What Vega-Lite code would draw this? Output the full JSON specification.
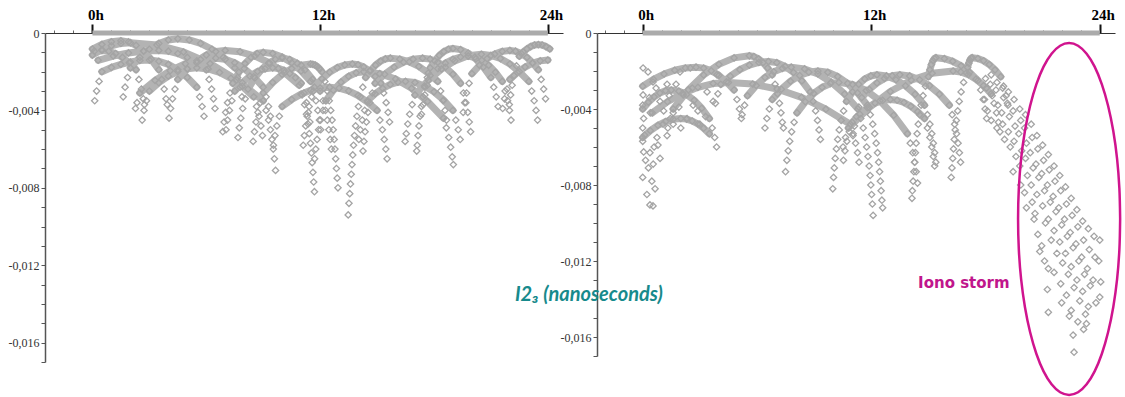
{
"$schema":"https://vega.github.io/schema/vega-lite/v6.json",
"background":"white",
"padding":{"left":8,"top":7,"right":0,"bottom":0},
"bounds":"flush",
"spacing":34,
"config":{"view":{"stroke":null}},
"datasets":{
"base":[{"h":0,"h2":24,"v":0}],
"T":[{"h":14.46,"v":-0.01316,"s":"Iono storm","k":"storm"},{"h":-6.71,"v":-0.01379,"s":"I2₃ (nanoseconds)","k":"unit"}],
"E":[{"o":0,"h":25.07,"v":-0.00979},{"o":1,"h":25.03,"v":-0.00818},{"o":2,"h":24.91,"v":-0.00662},{"o":3,"h":24.71,"v":-0.00516},{"o":4,"h":24.44,"v":-0.00384},{"o":5,"h":24.11,"v":-0.0027},{"o":6,"h":23.73,"v":-0.00177},{"o":7,"h":23.31,"v":-0.00109},{"o":8,"h":22.86,"v":-0.00067},{"o":9,"h":22.39,"v":-0.00053},{"o":10,"h":21.92,"v":-0.00067},{"o":11,"h":21.47,"v":-0.00109},{"o":12,"h":21.05,"v":-0.00177},{"o":13,"h":20.67,"v":-0.0027},{"o":14,"h":20.34,"v":-0.00384},{"o":15,"h":20.07,"v":-0.00516},{"o":16,"h":19.87,"v":-0.00662},{"o":17,"h":19.75,"v":-0.00818},{"o":18,"h":19.71,"v":-0.00979},{"o":19,"h":19.75,"v":-0.0114},{"o":20,"h":19.87,"v":-0.01296},{"o":21,"h":20.07,"v":-0.01442},{"o":22,"h":20.34,"v":-0.01574},{"o":23,"h":20.67,"v":-0.01688},{"o":24,"h":21.05,"v":-0.01781},{"o":25,"h":21.47,"v":-0.01849},{"o":26,"h":21.92,"v":-0.01891},{"o":27,"h":22.39,"v":-0.01905},{"o":28,"h":22.86,"v":-0.01891},{"o":29,"h":23.31,"v":-0.01849},{"o":30,"h":23.73,"v":-0.01781},{"o":31,"h":24.11,"v":-0.01688},{"o":32,"h":24.44,"v":-0.01574},{"o":33,"h":24.71,"v":-0.01442},{"o":34,"h":24.91,"v":-0.01296},{"o":35,"h":25.03,"v":-0.0114},{"o":36,"h":25.07,"v":-0.00979}],
"L":[
{"t":"a","h":0.1,"v":-0.00094},{"t":"a","h":0.5,"v":-0.0009},{"t":"a","h":0.86,"v":-0.00094},{"t":"a","h":1.22,"v":-0.00106},{"t":"a","h":1.58,"v":-0.00126},{"t":"a","h":1.94,"v":-0.00154},{"t":"a","h":2.3,"v":-0.0019},
{"h":2.45,"v":-0.0024},{"h":2.58,"v":-0.0029},{"h":2.68,"v":-0.0034},{"h":2.74,"v":-0.0037},
{"t":"b","h":0.0,"v":-0.00083},{"t":"b","h":0.5,"v":-0.00059},{"t":"b","h":1.0,"v":-0.00045},{"t":"b","h":1.5,"v":-0.0004},{"t":"b","h":1.9,"v":-0.00046},{"t":"b","h":2.3,"v":-0.00064},{"t":"b","h":2.7,"v":-0.00094},{"t":"b","h":3.1,"v":-0.00136},{"t":"b","h":3.5,"v":-0.0019},
{"h":3.65,"v":-0.0024},{"h":3.78,"v":-0.0029},{"h":3.88,"v":-0.0034},{"h":3.94,"v":-0.0037},
{"t":"c","h":0.0,"v":-0.00114},{"t":"c","h":0.5,"v":-0.00086},{"t":"c","h":1.0,"v":-0.00066},{"t":"c","h":1.5,"v":-0.00054},{"t":"c","h":2.0,"v":-0.0005},{"t":"c","h":3.4,"v":-0.00062},{"t":"c","h":4.8,"v":-0.00098},{"t":"c","h":6.2,"v":-0.00158},{"t":"c","h":7.6,"v":-0.00242},{"t":"c","h":9.0,"v":-0.0035},
{"h":9.15,"v":-0.004},{"h":9.28,"v":-0.0045},{"h":9.38,"v":-0.005},{"h":9.46,"v":-0.0055},{"h":9.53,"v":-0.006},{"h":9.59,"v":-0.0065},{"h":9.65,"v":-0.0071},
{"t":"d","h":0.3,"v":-0.00141},{"t":"d","h":1.1,"v":-0.00119},{"t":"d","h":1.9,"v":-0.00103},{"t":"d","h":2.7,"v":-0.00093},{"t":"d","h":3.5,"v":-0.0009},{"t":"d","h":4.0,"v":-0.00094},{"t":"d","h":4.5,"v":-0.00106},{"t":"d","h":5.0,"v":-0.00126},{"t":"d","h":5.5,"v":-0.00154},{"t":"d","h":6.0,"v":-0.0019},
{"h":6.15,"v":-0.0024},{"h":6.28,"v":-0.0029},{"h":6.38,"v":-0.0034},{"h":6.46,"v":-0.0039},
{"t":"e","h":2.0,"v":-0.0018},{"t":"e","h":2.5,"v":-0.00126},{"t":"e","h":3.0,"v":-0.00084},{"t":"e","h":3.5,"v":-0.00054},{"t":"e","h":4.0,"v":-0.00036},{"t":"e","h":4.5,"v":-0.0003},{"t":"e","h":5.1,"v":-0.00036},{"t":"e","h":5.7,"v":-0.00054},{"t":"e","h":6.3,"v":-0.00084},{"t":"e","h":6.9,"v":-0.00126},{"t":"e","h":7.5,"v":-0.0018},
{"h":1.85,"v":-0.0023},{"h":1.72,"v":-0.0028},{"h":1.62,"v":-0.0033},{"h":7.65,"v":-0.0023},{"h":7.78,"v":-0.0028},{"h":7.88,"v":-0.0033},
{"t":"f","h":2.5,"v":-0.0031},{"t":"f","h":3.3,"v":-0.00245},{"t":"f","h":4.1,"v":-0.00195},{"t":"f","h":4.9,"v":-0.00159},{"t":"f","h":5.7,"v":-0.00137},{"t":"f","h":6.5,"v":-0.0013},{"t":"f","h":7.0,"v":-0.00136},{"t":"f","h":7.5,"v":-0.00154},{"t":"f","h":8.0,"v":-0.00184},{"t":"f","h":8.5,"v":-0.00226},{"t":"f","h":9.0,"v":-0.0028},
{"h":2.35,"v":-0.0036},{"h":2.27,"v":-0.0039},{"h":9.15,"v":-0.0033},{"h":9.28,"v":-0.0038},{"h":9.38,"v":-0.0043},
{"t":"g","h":7.4,"v":-0.0026},{"t":"g","h":7.72,"v":-0.00202},{"t":"g","h":8.04,"v":-0.00158},{"t":"g","h":8.36,"v":-0.00126},{"t":"g","h":8.68,"v":-0.00106},{"t":"g","h":9.0,"v":-0.001},{"t":"g","h":9.5,"v":-0.00106},{"t":"g","h":10.0,"v":-0.00124},{"t":"g","h":10.5,"v":-0.00154},{"t":"g","h":11.0,"v":-0.00196},{"t":"g","h":11.5,"v":-0.0025},
{"h":7.25,"v":-0.0031},{"h":7.12,"v":-0.0036},{"h":7.02,"v":-0.0041},{"h":6.94,"v":-0.0046},{"h":6.87,"v":-0.0051},{"h":11.65,"v":-0.003},{"h":11.78,"v":-0.0035},{"h":11.88,"v":-0.004},{"h":11.96,"v":-0.0045},{"h":12.03,"v":-0.005},
{"t":"h","h":8.2,"v":-0.0029},{"t":"h","h":8.56,"v":-0.00232},{"t":"h","h":8.92,"v":-0.00188},{"t":"h","h":9.28,"v":-0.00156},{"t":"h","h":9.64,"v":-0.00136},{"t":"h","h":10.0,"v":-0.0013},{"t":"h","h":10.4,"v":-0.00137},{"t":"h","h":10.8,"v":-0.00157},{"t":"h","h":11.2,"v":-0.00191},{"t":"h","h":11.6,"v":-0.00239},{"t":"h","h":12.0,"v":-0.003},
{"h":8.05,"v":-0.0034},{"h":7.92,"v":-0.0039},{"h":7.82,"v":-0.0044},{"h":7.74,"v":-0.0049},{"h":7.67,"v":-0.0054},{"h":12.15,"v":-0.0035},{"h":12.28,"v":-0.004},{"h":12.38,"v":-0.0045},{"h":12.46,"v":-0.005},{"h":12.53,"v":-0.0055},{"h":12.59,"v":-0.006},
{"t":"i","h":4.5,"v":-0.0024},{"t":"i","h":5.0,"v":-0.00186},{"t":"i","h":5.5,"v":-0.00144},{"t":"i","h":6.0,"v":-0.00114},{"t":"i","h":6.5,"v":-0.00096},{"t":"i","h":7.0,"v":-0.0009},{"t":"i","h":7.78,"v":-0.00097},{"t":"i","h":8.56,"v":-0.00119},{"t":"i","h":9.34,"v":-0.00155},{"t":"i","h":10.12,"v":-0.00205},{"t":"i","h":10.9,"v":-0.0027},
{"h":4.35,"v":-0.0029},{"h":4.22,"v":-0.0034},{"h":4.12,"v":-0.0039},{"h":4.04,"v":-0.0044},{"h":11.05,"v":-0.0032},{"h":11.18,"v":-0.0037},{"h":11.28,"v":-0.0042},{"h":11.36,"v":-0.0047},{"h":11.43,"v":-0.0052},{"h":11.49,"v":-0.0057},{"h":11.54,"v":-0.0062},{"h":11.58,"v":-0.0067},{"h":11.62,"v":-0.0072},{"h":11.66,"v":-0.0077},{"h":11.7,"v":-0.0082},
{"t":"j","h":9.0,"v":-0.0031},{"t":"j","h":9.5,"v":-0.00256},{"t":"j","h":10.0,"v":-0.00214},{"t":"j","h":10.5,"v":-0.00184},{"t":"j","h":11.0,"v":-0.00166},{"t":"j","h":11.5,"v":-0.0016},{"t":"j","h":11.62,"v":-0.00162},{"t":"j","h":11.74,"v":-0.00166},{"t":"j","h":11.86,"v":-0.00174},{"t":"j","h":11.98,"v":-0.00186},{"t":"j","h":12.1,"v":-0.002},
{"h":8.85,"v":-0.0036},{"h":8.72,"v":-0.0041},{"h":8.62,"v":-0.0046},{"h":8.54,"v":-0.0051},{"h":8.47,"v":-0.0056},{"h":12.25,"v":-0.0025},{"h":12.38,"v":-0.003},{"h":12.48,"v":-0.0035},{"h":12.56,"v":-0.004},{"h":12.63,"v":-0.0045},{"h":12.69,"v":-0.005},{"h":12.74,"v":-0.0055},{"h":12.78,"v":-0.006},{"h":12.82,"v":-0.0065},{"h":12.86,"v":-0.007},{"h":12.9,"v":-0.0075},{"h":12.94,"v":-0.008},
{"t":"k","h":7.5,"v":-0.003},{"t":"k","h":7.9,"v":-0.00257},{"t":"k","h":8.3,"v":-0.00223},{"t":"k","h":8.7,"v":-0.00199},{"t":"k","h":9.1,"v":-0.00185},{"t":"k","h":9.5,"v":-0.0018},{"t":"k","h":9.8,"v":-0.00183},{"t":"k","h":10.1,"v":-0.00193},{"t":"k","h":10.4,"v":-0.00209},{"t":"k","h":10.7,"v":-0.00231},{"t":"k","h":11.0,"v":-0.0026},
{"h":7.35,"v":-0.0035},{"h":7.22,"v":-0.004},{"h":7.12,"v":-0.0045},{"h":7.04,"v":-0.005},{"h":11.15,"v":-0.0031},{"h":11.28,"v":-0.0036},{"h":11.38,"v":-0.0041},{"h":11.46,"v":-0.0046},
{"t":"l","h":14.4,"v":-0.0023},{"t":"l","h":14.66,"v":-0.00194},{"t":"l","h":14.92,"v":-0.00166},{"t":"l","h":15.18,"v":-0.00146},{"t":"l","h":15.44,"v":-0.00134},{"t":"l","h":15.7,"v":-0.0013},{"t":"l","h":16.2,"v":-0.00135},{"t":"l","h":16.7,"v":-0.00149},{"t":"l","h":17.2,"v":-0.00173},{"t":"l","h":17.7,"v":-0.00207},{"t":"l","h":18.2,"v":-0.0025},
{"h":14.25,"v":-0.0028},{"h":14.12,"v":-0.0033},{"h":14.02,"v":-0.0038},{"h":13.94,"v":-0.0043},{"h":13.87,"v":-0.0048},{"h":13.81,"v":-0.0053},{"h":13.76,"v":-0.0058},{"h":13.72,"v":-0.0063},{"h":13.68,"v":-0.0068},{"h":13.64,"v":-0.0073},{"h":13.6,"v":-0.0078},{"h":13.56,"v":-0.0083},{"h":13.52,"v":-0.0088},{"h":13.48,"v":-0.0094},{"h":18.35,"v":-0.003},{"h":18.48,"v":-0.0035},{"h":18.58,"v":-0.004},{"h":18.66,"v":-0.0045},
{"t":"m","h":14.9,"v":-0.0026},{"t":"m","h":15.4,"v":-0.00213},{"t":"m","h":15.9,"v":-0.00177},{"t":"m","h":16.4,"v":-0.00151},{"t":"m","h":16.9,"v":-0.00135},{"t":"m","h":17.4,"v":-0.0013},{"t":"m","h":17.8,"v":-0.00135},{"t":"m","h":18.2,"v":-0.00151},{"t":"m","h":18.6,"v":-0.00177},{"t":"m","h":19.0,"v":-0.00213},{"t":"m","h":19.4,"v":-0.0026},
{"h":14.75,"v":-0.0031},{"h":14.62,"v":-0.0036},{"h":14.52,"v":-0.0041},{"h":14.44,"v":-0.0046},{"h":14.37,"v":-0.0051},{"h":14.31,"v":-0.0056},{"h":14.26,"v":-0.0061},{"h":19.55,"v":-0.0031},{"h":19.68,"v":-0.0036},{"h":19.78,"v":-0.0041},{"h":19.86,"v":-0.0046},{"h":19.93,"v":-0.0051},
{"t":"n","h":11.7,"v":-0.0028},{"t":"n","h":12.1,"v":-0.00237},{"t":"n","h":12.5,"v":-0.00203},{"t":"n","h":12.9,"v":-0.00179},{"t":"n","h":13.3,"v":-0.00165},{"t":"n","h":13.7,"v":-0.0016},{"t":"n","h":14.0,"v":-0.00164},{"t":"n","h":14.3,"v":-0.00176},{"t":"n","h":14.6,"v":-0.00196},{"t":"n","h":14.9,"v":-0.00224},{"t":"n","h":15.2,"v":-0.0026},
{"h":11.55,"v":-0.0033},{"h":11.42,"v":-0.0038},{"h":11.32,"v":-0.0043},{"h":11.24,"v":-0.0048},{"h":11.17,"v":-0.0053},{"h":11.11,"v":-0.0058},{"h":15.35,"v":-0.0031},{"h":15.48,"v":-0.0036},{"h":15.58,"v":-0.0041},{"h":15.66,"v":-0.0046},
{"t":"o","h":17.0,"v":-0.0032},{"t":"o","h":17.7,"v":-0.00244},{"t":"o","h":18.4,"v":-0.00186},{"t":"o","h":19.1,"v":-0.00144},{"t":"o","h":19.8,"v":-0.00118},{"t":"o","h":20.5,"v":-0.0011},{"t":"o","h":21.0,"v":-0.00116},{"t":"o","h":21.5,"v":-0.00132},{"t":"o","h":22.0,"v":-0.0016},{"t":"o","h":22.5,"v":-0.002},{"t":"o","h":23.0,"v":-0.0025},
{"h":16.85,"v":-0.0037},{"h":16.72,"v":-0.0042},{"h":16.62,"v":-0.0047},{"h":16.54,"v":-0.0052},{"h":16.48,"v":-0.0056},{"h":23.15,"v":-0.003},{"h":23.28,"v":-0.0035},{"h":23.38,"v":-0.004},{"h":23.46,"v":-0.0045},
{"t":"p","h":17.8,"v":-0.0018},{"t":"p","h":18.04,"v":-0.00144},{"t":"p","h":18.28,"v":-0.00116},{"t":"p","h":18.52,"v":-0.00096},{"t":"p","h":18.76,"v":-0.00084},{"t":"p","h":19.0,"v":-0.0008},{"t":"p","h":19.4,"v":-0.00086},{"t":"p","h":19.8,"v":-0.00104},{"t":"p","h":20.2,"v":-0.00134},{"t":"p","h":20.6,"v":-0.00176},{"t":"p","h":21.0,"v":-0.0023},
{"h":17.65,"v":-0.0023},{"h":17.52,"v":-0.0028},{"h":17.42,"v":-0.0033},{"h":17.34,"v":-0.0038},{"h":17.27,"v":-0.0043},{"h":17.21,"v":-0.0048},{"h":17.16,"v":-0.0053},{"h":17.12,"v":-0.0058},{"h":17.09,"v":-0.0061},{"h":21.15,"v":-0.0028},{"h":21.28,"v":-0.0033},{"h":21.38,"v":-0.0038},
{"t":"q","h":12.3,"v":-0.0035},{"t":"q","h":12.7,"v":-0.00296},{"t":"q","h":13.1,"v":-0.00254},{"t":"q","h":13.5,"v":-0.00224},{"t":"q","h":13.9,"v":-0.00206},{"t":"q","h":14.3,"v":-0.002},{"t":"q","h":15.14,"v":-0.0021},{"t":"q","h":15.98,"v":-0.00238},{"t":"q","h":16.82,"v":-0.00286},{"t":"q","h":17.66,"v":-0.00354},{"t":"q","h":18.5,"v":-0.0044},
{"h":12.15,"v":-0.004},{"h":12.02,"v":-0.0045},{"h":11.92,"v":-0.005},{"h":11.84,"v":-0.0055},{"h":11.77,"v":-0.006},{"h":11.71,"v":-0.0065},{"h":18.65,"v":-0.0049},{"h":18.78,"v":-0.0054},{"h":18.88,"v":-0.0059},{"h":18.96,"v":-0.0064},{"h":19.02,"v":-0.0068},
{"t":"s","h":17.8,"v":-0.0022},{"t":"s","h":18.2,"v":-0.00184},{"t":"s","h":18.6,"v":-0.00156},{"t":"s","h":19.0,"v":-0.00136},{"t":"s","h":19.4,"v":-0.00124},{"t":"s","h":19.8,"v":-0.0012},{"t":"s","h":20.16,"v":-0.00125},{"t":"s","h":20.52,"v":-0.00141},{"t":"s","h":20.88,"v":-0.00167},{"t":"s","h":21.24,"v":-0.00203},{"t":"s","h":21.6,"v":-0.0025},
{"h":17.65,"v":-0.0027},{"h":17.52,"v":-0.0032},{"h":17.42,"v":-0.0037},{"h":17.34,"v":-0.0042},{"h":21.75,"v":-0.003},{"h":21.88,"v":-0.0035},{"h":21.98,"v":-0.004},{"h":22.06,"v":-0.0045},
{"t":"t","h":22.5,"v":-0.0012},{"t":"t","h":22.7,"v":-0.00098},{"t":"t","h":22.9,"v":-0.00082},{"t":"t","h":23.1,"v":-0.0007},{"t":"t","h":23.3,"v":-0.00062},{"t":"t","h":23.5,"v":-0.0006},{"t":"t","h":23.7,"v":-0.00062},{"t":"t","h":23.9,"v":-0.0007},{"t":"t","h":24.1,"v":-0.00082},
{"h":22.35,"v":-0.0017},{"h":22.22,"v":-0.0022},{"h":22.12,"v":-0.0027},{"h":22.04,"v":-0.0032},{"h":21.97,"v":-0.0037},
{"t":"u","h":20.0,"v":-0.0021},{"t":"u","h":20.4,"v":-0.00167},{"t":"u","h":20.8,"v":-0.00133},{"t":"u","h":21.2,"v":-0.00109},{"t":"u","h":21.6,"v":-0.00095},{"t":"u","h":22.0,"v":-0.0009},{"t":"u","h":22.3,"v":-0.00094},{"t":"u","h":22.6,"v":-0.00106},{"t":"u","h":22.9,"v":-0.00126},{"t":"u","h":23.2,"v":-0.00154},{"t":"u","h":23.5,"v":-0.0019},
{"h":19.85,"v":-0.0026},{"h":19.72,"v":-0.0031},{"h":19.62,"v":-0.0036},{"h":19.54,"v":-0.0041},{"h":23.65,"v":-0.0024},{"h":23.78,"v":-0.0029},{"h":23.88,"v":-0.0034},
{"t":"w","h":22.0,"v":-0.0024},{"t":"w","h":22.4,"v":-0.00204},{"t":"w","h":22.8,"v":-0.00176},{"t":"w","h":23.2,"v":-0.00156},{"t":"w","h":23.6,"v":-0.00144},{"t":"w","h":24.0,"v":-0.0014},
{"h":21.85,"v":-0.0029},{"h":21.72,"v":-0.0034},{"h":21.62,"v":-0.0039},
{"t":"x1","h":3.0,"v":-0.003},{"t":"x1","h":3.5,"v":-0.00257},{"t":"x1","h":4.0,"v":-0.00223},{"t":"x1","h":4.5,"v":-0.00199},{"t":"x1","h":5.0,"v":-0.00185},{"t":"x1","h":5.5,"v":-0.0018},{"t":"x1","h":6.1,"v":-0.00186},{"t":"x1","h":6.7,"v":-0.00204},{"t":"x1","h":7.3,"v":-0.00234},{"t":"x1","h":7.9,"v":-0.00276},{"t":"x1","h":8.5,"v":-0.0033},
{"h":2.85,"v":-0.0035},{"h":2.72,"v":-0.004},{"h":2.62,"v":-0.0045},{"h":8.65,"v":-0.0038},{"h":8.78,"v":-0.0043},{"h":8.88,"v":-0.0048},{"h":8.96,"v":-0.0053},
{"t":"x2","h":0.5,"v":-0.002},{"t":"x2","h":1.0,"v":-0.00178},{"t":"x2","h":1.5,"v":-0.00162},{"t":"x2","h":2.0,"v":-0.0015},{"t":"x2","h":2.5,"v":-0.00142},{"t":"x2","h":3.0,"v":-0.0014},{"t":"x2","h":3.5,"v":-0.00146},{"t":"x2","h":4.0,"v":-0.00162},{"t":"x2","h":4.5,"v":-0.0019},{"t":"x2","h":5.0,"v":-0.0023},{"t":"x2","h":5.5,"v":-0.0028},
{"h":0.35,"v":-0.0025},{"h":0.22,"v":-0.003},{"h":0.12,"v":-0.0035},{"h":5.65,"v":-0.0033},{"h":5.78,"v":-0.0038},{"h":5.88,"v":-0.0043},
{"t":"x3","h":10.0,"v":-0.0038},{"t":"x3","h":10.5,"v":-0.00344},{"t":"x3","h":11.0,"v":-0.00316},{"t":"x3","h":11.5,"v":-0.00296},{"t":"x3","h":12.0,"v":-0.00284},{"t":"x3","h":12.5,"v":-0.0028},{"t":"x3","h":13.0,"v":-0.00285},{"t":"x3","h":13.5,"v":-0.00299},{"t":"x3","h":14.0,"v":-0.00323},{"t":"x3","h":14.5,"v":-0.00357},{"t":"x3","h":15.0,"v":-0.004},
{"h":9.85,"v":-0.0043},{"h":9.72,"v":-0.0048},{"h":9.62,"v":-0.0053},{"h":9.54,"v":-0.0058},{"h":15.15,"v":-0.0045},{"h":15.28,"v":-0.005},{"h":15.38,"v":-0.0055},{"h":15.46,"v":-0.006},{"h":15.53,"v":-0.0065},
{"t":"x4","h":14.5,"v":-0.0035},{"t":"x4","h":14.9,"v":-0.00314},{"t":"x4","h":15.3,"v":-0.00286},{"t":"x4","h":15.7,"v":-0.00266},{"t":"x4","h":16.1,"v":-0.00254},{"t":"x4","h":16.5,"v":-0.0025},{"t":"x4","h":17.0,"v":-0.00256},{"t":"x4","h":17.5,"v":-0.00274},{"t":"x4","h":18.0,"v":-0.00304},{"t":"x4","h":18.5,"v":-0.00346},{"t":"x4","h":19.0,"v":-0.004},
{"h":14.35,"v":-0.004},{"h":14.22,"v":-0.0045},{"h":14.12,"v":-0.005},{"h":14.04,"v":-0.0055},{"h":19.15,"v":-0.0045},{"h":19.28,"v":-0.005},{"h":19.38,"v":-0.0055}
],
"R":[
{"t":"ra","h":0.0,"v":-0.0028},{"t":"ra","h":0.56,"v":-0.00244},{"t":"ra","h":1.12,"v":-0.00216},{"t":"ra","h":1.68,"v":-0.00196},{"t":"ra","h":2.24,"v":-0.00184},{"t":"ra","h":2.8,"v":-0.0018},{"t":"ra","h":3.2,"v":-0.00185},{"t":"ra","h":3.6,"v":-0.00199},{"t":"ra","h":4.0,"v":-0.00223},{"t":"ra","h":4.4,"v":-0.00257},{"t":"ra","h":4.8,"v":-0.003},
{"h":4.95,"v":-0.0035},{"h":5.08,"v":-0.004},{"h":5.18,"v":-0.0045},
{"t":"rb","h":1.6,"v":-0.004},{"t":"rb","h":2.4,"v":-0.00299},{"t":"rb","h":3.2,"v":-0.00221},{"t":"rb","h":4.0,"v":-0.00165},{"t":"rb","h":4.8,"v":-0.00131},{"t":"rb","h":5.6,"v":-0.0012},{"t":"rb","h":5.84,"v":-0.00124},{"t":"rb","h":6.08,"v":-0.00136},{"t":"rb","h":6.32,"v":-0.00156},{"t":"rb","h":6.56,"v":-0.00184},{"t":"rb","h":6.8,"v":-0.0022},
{"h":1.45,"v":-0.0045},{"h":1.32,"v":-0.005},{"h":6.95,"v":-0.0027},{"h":7.08,"v":-0.0032},{"h":7.18,"v":-0.0037},{"h":7.26,"v":-0.0042},{"h":7.33,"v":-0.0047},{"h":7.39,"v":-0.005},
{"t":"rc","h":0.5,"v":-0.0042},{"t":"rc","h":1.3,"v":-0.00362},{"t":"rc","h":2.1,"v":-0.00318},{"t":"rc","h":2.9,"v":-0.00286},{"t":"rc","h":3.7,"v":-0.00266},{"t":"rc","h":4.5,"v":-0.0026},{"t":"rc","h":5.78,"v":-0.00269},{"t":"rc","h":7.06,"v":-0.00295},{"t":"rc","h":8.34,"v":-0.00339},{"t":"rc","h":9.62,"v":-0.00401},{"t":"rc","h":10.9,"v":-0.0048},
{"h":11.05,"v":-0.0053},{"h":11.18,"v":-0.0058},{"h":11.28,"v":-0.0063},{"h":11.36,"v":-0.0068},
{"t":"rd","h":5.5,"v":-0.0033},{"t":"rd","h":5.96,"v":-0.00276},{"t":"rd","h":6.42,"v":-0.00234},{"t":"rd","h":6.88,"v":-0.00204},{"t":"rd","h":7.34,"v":-0.00186},{"t":"rd","h":7.8,"v":-0.0018},{"t":"rd","h":8.5,"v":-0.00189},{"t":"rd","h":9.2,"v":-0.00215},{"t":"rd","h":9.9,"v":-0.00259},{"t":"rd","h":10.6,"v":-0.00321},{"t":"rd","h":11.3,"v":-0.004},
{"h":5.35,"v":-0.0038},{"h":5.22,"v":-0.0043},{"h":11.45,"v":-0.0045},{"h":11.58,"v":-0.005},{"h":11.68,"v":-0.0055},{"h":11.76,"v":-0.006},{"h":11.83,"v":-0.0065},{"h":11.89,"v":-0.007},{"h":11.94,"v":-0.0075},{"h":11.98,"v":-0.008},{"h":12.02,"v":-0.0085},{"h":12.06,"v":-0.009},{"h":12.1,"v":-0.0096},
{"t":"re","h":6.8,"v":-0.0035},{"t":"re","h":7.28,"v":-0.00296},{"t":"re","h":7.76,"v":-0.00254},{"t":"re","h":8.24,"v":-0.00224},{"t":"re","h":8.72,"v":-0.00206},{"t":"re","h":9.2,"v":-0.002},{"t":"re","h":9.72,"v":-0.00207},{"t":"re","h":10.24,"v":-0.00229},{"t":"re","h":10.76,"v":-0.00265},{"t":"re","h":11.28,"v":-0.00315},{"t":"re","h":11.8,"v":-0.0038},
{"h":6.65,"v":-0.004},{"h":6.52,"v":-0.0045},{"h":6.42,"v":-0.005},{"h":11.95,"v":-0.0043},{"h":12.08,"v":-0.0048},{"h":12.18,"v":-0.0053},{"h":12.26,"v":-0.0058},{"h":12.33,"v":-0.0063},{"h":12.39,"v":-0.0068},{"h":12.44,"v":-0.0073},{"h":12.48,"v":-0.0078},{"h":12.52,"v":-0.0083},{"h":12.56,"v":-0.0088},{"h":12.6,"v":-0.0092},
{"t":"rf","h":8.1,"v":-0.0042},{"t":"rf","h":8.54,"v":-0.00362},{"t":"rf","h":8.98,"v":-0.00318},{"t":"rf","h":9.42,"v":-0.00286},{"t":"rf","h":9.86,"v":-0.00266},{"t":"rf","h":10.3,"v":-0.0026},{"t":"rf","h":11.02,"v":-0.00271},{"t":"rf","h":11.74,"v":-0.00303},{"t":"rf","h":12.46,"v":-0.00357},{"t":"rf","h":13.18,"v":-0.00433},{"t":"rf","h":13.9,"v":-0.0053},
{"h":7.95,"v":-0.0047},{"h":7.82,"v":-0.0052},{"h":7.72,"v":-0.0057},{"h":7.64,"v":-0.0062},{"h":7.57,"v":-0.0067},{"h":7.5,"v":-0.0073},{"h":14.05,"v":-0.0058},{"h":14.18,"v":-0.0063},{"h":14.28,"v":-0.0068},{"h":14.36,"v":-0.0073},{"h":14.43,"v":-0.0079},
{"t":"rg","h":10.7,"v":-0.0036},{"t":"rg","h":11.02,"v":-0.0031},{"t":"rg","h":11.34,"v":-0.0027},{"t":"rg","h":11.66,"v":-0.00242},{"t":"rg","h":11.98,"v":-0.00226},{"t":"rg","h":12.3,"v":-0.0022},{"t":"rg","h":12.8,"v":-0.00226},{"t":"rg","h":13.3,"v":-0.00246},{"t":"rg","h":13.8,"v":-0.00278},{"t":"rg","h":14.3,"v":-0.00322},{"t":"rg","h":14.8,"v":-0.0038},
{"h":10.55,"v":-0.0041},{"h":10.42,"v":-0.0046},{"h":10.32,"v":-0.0051},{"h":10.24,"v":-0.0056},{"h":10.17,"v":-0.0061},{"h":10.11,"v":-0.0066},{"h":10.06,"v":-0.0071},{"h":10.02,"v":-0.0076},{"h":9.98,"v":-0.0082},{"h":14.95,"v":-0.0043},{"h":15.08,"v":-0.0048},{"h":15.18,"v":-0.0053},{"h":15.26,"v":-0.0058},{"h":15.33,"v":-0.0063},{"h":15.39,"v":-0.0068},
{"t":"rh","h":10.8,"v":-0.005},{"t":"rh","h":11.9,"v":-0.00392},{"t":"rh","h":13.0,"v":-0.00308},{"t":"rh","h":14.1,"v":-0.00248},{"t":"rh","h":15.2,"v":-0.00212},{"t":"rh","h":16.3,"v":-0.002},{"t":"rh","h":16.7,"v":-0.00205},{"t":"rh","h":17.1,"v":-0.00219},{"t":"rh","h":17.5,"v":-0.00243},{"t":"rh","h":17.9,"v":-0.00277},{"t":"rh","h":18.3,"v":-0.0032},
{"h":10.65,"v":-0.0055},{"h":10.52,"v":-0.006},{"h":18.45,"v":-0.0037},{"h":18.58,"v":-0.0042},{"h":18.68,"v":-0.0047},{"h":18.76,"v":-0.0052},
{"t":"ri","h":15.0,"v":-0.0023},{"t":"ri","h":15.08,"v":-0.00194},{"t":"ri","h":15.16,"v":-0.00166},{"t":"ri","h":15.24,"v":-0.00146},{"t":"ri","h":15.32,"v":-0.00134},{"t":"ri","h":15.4,"v":-0.0013},{"t":"ri","h":15.84,"v":-0.00135},{"t":"ri","h":16.28,"v":-0.00149},{"t":"ri","h":16.72,"v":-0.00173},{"t":"ri","h":17.16,"v":-0.00207},{"t":"ri","h":17.6,"v":-0.0025},
{"h":14.85,"v":-0.0028},{"h":14.72,"v":-0.0033},{"h":14.62,"v":-0.0038},{"h":14.54,"v":-0.0043},{"h":14.47,"v":-0.0048},{"h":14.41,"v":-0.0053},{"h":14.36,"v":-0.0058},{"h":14.32,"v":-0.0063},{"h":14.28,"v":-0.0068},{"h":14.24,"v":-0.0073},{"h":14.2,"v":-0.0078},{"h":14.16,"v":-0.0083},{"h":14.14,"v":-0.0087},{"h":17.75,"v":-0.003},{"h":17.88,"v":-0.0035},{"h":17.98,"v":-0.004},{"h":18.06,"v":-0.0045},
{"t":"rj","h":17.0,"v":-0.0021},{"t":"rj","h":17.06,"v":-0.00181},{"t":"rj","h":17.12,"v":-0.00159},{"t":"rj","h":17.18,"v":-0.00143},{"t":"rj","h":17.24,"v":-0.00133},{"t":"rj","h":17.3,"v":-0.0013},{"t":"rj","h":17.6,"v":-0.00134},{"t":"rj","h":17.9,"v":-0.00146},{"t":"rj","h":18.2,"v":-0.00166},{"t":"rj","h":18.5,"v":-0.00194},{"t":"rj","h":18.8,"v":-0.0023},
{"h":16.85,"v":-0.0026},{"h":16.72,"v":-0.0031},{"h":16.62,"v":-0.0036},{"h":16.54,"v":-0.0041},{"h":16.47,"v":-0.0046},{"h":16.41,"v":-0.0051},{"h":16.36,"v":-0.0056},{"h":16.32,"v":-0.0061},{"h":16.28,"v":-0.0066},{"h":16.24,"v":-0.0071},{"h":16.2,"v":-0.0076},{"h":18.95,"v":-0.0028},{"h":19.08,"v":-0.0033},{"h":19.18,"v":-0.0038},
{"t":"rk","h":11.5,"v":-0.0034},{"t":"rk","h":11.9,"v":-0.00297},{"t":"rk","h":12.3,"v":-0.00263},{"t":"rk","h":12.7,"v":-0.00239},{"t":"rk","h":13.1,"v":-0.00225},{"t":"rk","h":13.5,"v":-0.0022},{"t":"rk","h":14.02,"v":-0.00226},{"t":"rk","h":14.54,"v":-0.00246},{"t":"rk","h":15.06,"v":-0.00278},{"t":"rk","h":15.58,"v":-0.00322},{"t":"rk","h":16.1,"v":-0.0038},
{"h":11.35,"v":-0.0039},{"h":11.22,"v":-0.0044},{"h":11.12,"v":-0.0049},{"h":11.04,"v":-0.0054},{"h":16.25,"v":-0.0043},{"h":16.38,"v":-0.0048},{"h":16.48,"v":-0.0053},{"h":16.56,"v":-0.0058},{"h":16.63,"v":-0.0063},{"h":16.69,"v":-0.0068},
{"t":"rm","h":4.1,"v":-0.0027},{"t":"rm","h":4.6,"v":-0.00227},{"t":"rm","h":5.1,"v":-0.00193},{"t":"rm","h":5.6,"v":-0.00169},{"t":"rm","h":6.1,"v":-0.00155},{"t":"rm","h":6.6,"v":-0.0015},{"t":"rm","h":7.04,"v":-0.00156},{"t":"rm","h":7.48,"v":-0.00176},{"t":"rm","h":7.92,"v":-0.00208},{"t":"rm","h":8.36,"v":-0.00252},{"t":"rm","h":8.8,"v":-0.0031},
{"h":3.95,"v":-0.0032},{"h":3.82,"v":-0.0037},{"h":8.95,"v":-0.0036},{"h":9.08,"v":-0.0041},{"h":9.18,"v":-0.0046},{"h":9.26,"v":-0.0051},{"h":9.33,"v":-0.0056},
{"t":"y1","h":0.0,"v":-0.004},{"t":"y1","h":0.3,"v":-0.00364},{"t":"y1","h":0.6,"v":-0.00336},{"t":"y1","h":0.9,"v":-0.00316},{"t":"y1","h":1.2,"v":-0.00304},{"t":"y1","h":1.5,"v":-0.003},{"t":"y1","h":1.9,"v":-0.00306},{"t":"y1","h":2.3,"v":-0.00324},{"t":"y1","h":2.7,"v":-0.00354},{"t":"y1","h":3.1,"v":-0.00396},{"t":"y1","h":3.5,"v":-0.0045},
{"h":3.65,"v":-0.005},{"h":3.78,"v":-0.0055},{"h":3.88,"v":-0.006},
{"t":"y2","h":0.0,"v":-0.0055},{"t":"y2","h":0.4,"v":-0.00514},{"t":"y2","h":0.8,"v":-0.00486},{"t":"y2","h":1.2,"v":-0.00466},{"t":"y2","h":1.6,"v":-0.00454},{"t":"y2","h":2.0,"v":-0.0045},{"t":"y2","h":2.3,"v":-0.00453},{"t":"y2","h":2.6,"v":-0.00463},{"t":"y2","h":2.9,"v":-0.00479},{"t":"y2","h":3.2,"v":-0.00501},{"t":"y2","h":3.5,"v":-0.0053},
{"t":"y3","h":11.0,"v":-0.0047},{"t":"y3","h":11.4,"v":-0.00427},{"t":"y3","h":11.8,"v":-0.00393},{"t":"y3","h":12.2,"v":-0.00369},{"t":"y3","h":12.6,"v":-0.00355},{"t":"y3","h":13.0,"v":-0.0035},{"t":"y3","h":13.36,"v":-0.00354},{"t":"y3","h":13.72,"v":-0.00366},{"t":"y3","h":14.08,"v":-0.00386},{"t":"y3","h":14.44,"v":-0.00414},{"t":"y3","h":14.8,"v":-0.0045},
{"h":10.85,"v":-0.0052},{"h":10.72,"v":-0.0057},{"h":10.62,"v":-0.0062},{"h":10.54,"v":-0.0067},{"h":14.95,"v":-0.005},{"h":15.08,"v":-0.0055},{"h":15.18,"v":-0.006},{"h":15.26,"v":-0.0065},{"h":15.33,"v":-0.007},
{"h":0.02,"v":-0.00184},{"h":0.28,"v":-0.00205},{"h":0.54,"v":-0.00258},{"h":0.02,"v":-0.00326},{"h":0.0,"v":-0.0038},{"h":0.05,"v":-0.0045},{"h":0.0,"v":-0.005},{"h":0.1,"v":-0.00537},{"h":0.0,"v":-0.0057},{"h":0.05,"v":-0.00626},{"h":0.38,"v":-0.0063},{"h":0.0,"v":-0.0076},{"h":0.48,"v":-0.0078},{"h":0.65,"v":-0.0082},{"h":0.22,"v":-0.0085},{"h":0.38,"v":-0.00905},{"h":0.54,"v":-0.0091},{"h":0.3,"v":-0.0071},{"h":0.15,"v":-0.0067},{"h":0.6,"v":-0.006},
{"h":1.28,"v":-0.0027},{"h":1.96,"v":-0.00205},{"h":2.5,"v":-0.00184},{"h":0.91,"v":-0.0036},{"h":1.6,"v":-0.0042},{"h":2.33,"v":-0.0045},{"h":3.0,"v":-0.0048},{"h":1.07,"v":-0.0048},{"h":0.75,"v":-0.0055},{"h":1.28,"v":-0.0054},{"h":3.38,"v":-0.0031},{"h":2.65,"v":-0.0038},{"h":2.13,"v":-0.00326},{"h":3.7,"v":-0.0036},{"h":3.9,"v":-0.0022},{"h":0.91,"v":-0.0066},{"h":0.55,"v":-0.0069},{"h":0.8,"v":-0.0059},{"h":1.6,"v":-0.0048},{"h":0.4,"v":-0.0042},{"h":1.9,"v":-0.0039},{"h":2.9,"v":-0.0041},{"h":1.4,"v":-0.0033},{"h":0.7,"v":-0.0029},{"h":3.3,"v":-0.0044},{"h":2.0,"v":-0.005},{"h":0.35,"v":-0.0034},{"h":1.75,"v":-0.0027},{"h":2.6,"v":-0.0029},{"h":1.1,"v":-0.0041},
{"h":18.0,"v":-0.0024},{"h":18.05,"v":-0.0029},{"h":17.95,"v":-0.0035},{"h":18.1,"v":-0.0041},{"h":18.3,"v":-0.0022},{"h":18.25,"v":-0.0027},{"h":18.35,"v":-0.0033},{"h":18.3,"v":-0.0046},{"h":18.6,"v":-0.0026},{"h":18.55,"v":-0.003},{"h":18.65,"v":-0.0038},{"h":18.6,"v":-0.005},
{"h":18.9,"v":-0.0029},{"h":18.95,"v":-0.0034},{"h":18.85,"v":-0.0042},{"h":18.9,"v":-0.0048},{"h":19.0,"v":-0.0056},{"h":19.2,"v":-0.0031},{"h":19.15,"v":-0.0037},{"h":19.25,"v":-0.0044},{"h":19.2,"v":-0.0052},{"h":19.3,"v":-0.006},
{"h":19.5,"v":-0.0035},{"h":19.45,"v":-0.0041},{"h":19.55,"v":-0.0049},{"h":19.5,"v":-0.0057},{"h":19.6,"v":-0.0065},{"h":19.45,"v":-0.0073},{"h":19.8,"v":-0.004},{"h":19.85,"v":-0.0046},{"h":19.75,"v":-0.0053},{"h":19.9,"v":-0.0062},{"h":19.8,"v":-0.007},{"h":19.85,"v":-0.008},
{"h":20.1,"v":-0.0043},{"h":20.05,"v":-0.005},{"h":20.15,"v":-0.0058},{"h":20.1,"v":-0.0066},{"h":20.2,"v":-0.0075},{"h":20.05,"v":-0.0084},{"h":20.15,"v":-0.0092},
{"h":20.4,"v":-0.0048},{"h":20.45,"v":-0.0055},{"h":20.35,"v":-0.0063},{"h":20.5,"v":-0.0071},{"h":20.4,"v":-0.008},{"h":20.45,"v":-0.0089},{"h":20.55,"v":-0.0098},
{"h":20.7,"v":-0.0054},{"h":20.75,"v":-0.0061},{"h":20.65,"v":-0.0069},{"h":20.8,"v":-0.0076},{"h":20.7,"v":-0.0085},{"h":20.6,"v":-0.0095},{"h":20.75,"v":-0.0106},{"h":20.85,"v":-0.0115},
{"h":21.0,"v":-0.0059},{"h":21.05,"v":-0.0067},{"h":20.95,"v":-0.0074},{"h":21.1,"v":-0.0083},{"h":21.0,"v":-0.0091},{"h":21.15,"v":-0.01},{"h":20.95,"v":-0.0112},{"h":21.1,"v":-0.012},
{"h":21.3,"v":-0.0064},{"h":21.35,"v":-0.0072},{"h":21.25,"v":-0.008},{"h":21.4,"v":-0.0089},{"h":21.3,"v":-0.0098},{"h":21.45,"v":-0.0109},{"h":21.3,"v":-0.0124},{"h":21.25,"v":-0.0135},{"h":21.3,"v":-0.0147},
{"h":21.6,"v":-0.007},{"h":21.65,"v":-0.0078},{"h":21.55,"v":-0.0086},{"h":21.7,"v":-0.0094},{"h":21.6,"v":-0.0104},{"h":21.75,"v":-0.0116},{"h":21.6,"v":-0.0126},
{"h":21.9,"v":-0.0075},{"h":21.95,"v":-0.0083},{"h":21.85,"v":-0.0092},{"h":22.0,"v":-0.0101},{"h":21.9,"v":-0.011},{"h":22.05,"v":-0.0121},{"h":21.95,"v":-0.0132},{"h":22.0,"v":-0.0142},
{"h":22.2,"v":-0.0081},{"h":22.25,"v":-0.009},{"h":22.15,"v":-0.0098},{"h":22.3,"v":-0.0107},{"h":22.2,"v":-0.0116},{"h":22.35,"v":-0.0127},{"h":22.25,"v":-0.0138},{"h":22.4,"v":-0.0149},
{"h":22.5,"v":-0.0087},{"h":22.55,"v":-0.0096},{"h":22.45,"v":-0.0105},{"h":22.6,"v":-0.0113},{"h":22.5,"v":-0.0123},{"h":22.65,"v":-0.0134},{"h":22.5,"v":-0.0146},{"h":22.6,"v":-0.0159},
{"h":22.8,"v":-0.0093},{"h":22.85,"v":-0.0102},{"h":22.75,"v":-0.0111},{"h":22.9,"v":-0.012},{"h":22.8,"v":-0.013},{"h":22.95,"v":-0.0141},{"h":22.85,"v":-0.0152},{"h":22.65,"v":-0.0168},
{"h":23.1,"v":-0.0099},{"h":23.15,"v":-0.0109},{"h":23.05,"v":-0.0118},{"h":23.2,"v":-0.0127},{"h":23.1,"v":-0.0136},{"h":23.25,"v":-0.0148},{"h":23.15,"v":-0.0156},
{"h":23.4,"v":-0.0103},{"h":23.45,"v":-0.0114},{"h":23.35,"v":-0.0124},{"h":23.5,"v":-0.0133},{"h":23.4,"v":-0.0144},{"h":23.3,"v":-0.0153},
{"h":23.7,"v":-0.0107},{"h":23.75,"v":-0.0118},{"h":23.65,"v":-0.013},{"h":23.8,"v":-0.0142},
{"h":24.0,"v":-0.0109},{"h":23.95,"v":-0.012},{"h":24.05,"v":-0.0131},{"h":24.0,"v":-0.0139}
]
},
"hconcat":[
{
"width":518,"height":329,
"encoding":{
"x":{"field":"h","type":"quantitative","scale":{"domain":[-2.5,24.8],"nice":false,"zero":false},
"axis":{"orient":"top","title":null,"grid":false,"values":[-2,-1,0,1,2,3,4,5,6,7,8,9,10,11,12,13,14,15,16,17,18,19,20,21,22,23,24],
"labelExpr":"datum.value==0||datum.value==12||datum.value==24 ? datum.value+'h' : ''",
"labelFont":"Liberation Serif","labelFontWeight":"bold","labelFontSize":15,"labelColor":"#000","labelPadding":2,"labelOffset":3,"labelOverlap":false,"labelFlush":false,"labelBound":false,
"tickSize":{"condition":{"test":"datum.value % 12 === 0","value":9},"value":3},
"tickWidth":{"condition":{"test":"datum.value % 12 === 0","value":2},"value":1},
"tickColor":{"condition":{"test":"datum.value % 12 === 0","value":"#111"},"value":"#666"},
"domainColor":"#333","domainWidth":1}},
"y":{"field":"v","type":"quantitative","scale":{"domain":[-0.017,0],"nice":false,"zero":false},
"axis":{"orient":"left","title":null,"grid":false,"values":[0,-0.001,-0.002,-0.003,-0.004,-0.005,-0.006,-0.007,-0.008,-0.009,-0.01,-0.011,-0.012,-0.013,-0.014,-0.015,-0.016,-0.017],
"labelExpr":"round(datum.value*1000)==0 ? '0' : (round(datum.value*1000)%4==0 ? '-0,0' + (abs(round(datum.value*1000))<10 ? '0' : '') + abs(round(datum.value*1000)) : '')",
"labelFont":"Liberation Sans Narrow","labelFontSize":12,"labelColor":"#333","labelPadding":2,"labelOverlap":false,
"tickSize":4,"tickColor":"#555","domainColor":"#555","domainWidth":1.5}}
},
"layer":[
{"data":{"name":"base"},"mark":{"type":"rule","color":"#ababab","strokeWidth":5},"encoding":{"x2":{"field":"h2"}}},
{"data":{"name":"L"},"transform":[{"filter":"datum.t"}],"mark":{"type":"line","color":"#b3b3b3","strokeWidth":7,"strokeCap":"round","strokeJoin":"round"},"encoding":{"detail":{"field":"t"}}},
{"data":{"name":"L"},"mark":{"type":"point","shape":"diamond","filled":false,"size":40,"color":"#a4a4a4","strokeWidth":1.3,"opacity":1}}
]
},
{
"width":518,"height":323,
"encoding":{
"x":{"field":"h","type":"quantitative","scale":{"domain":[-2.4,24.8],"nice":false,"zero":false},
"axis":{"orient":"top","title":null,"grid":false,"values":[-2,-1,0,1,2,3,4,5,6,7,8,9,10,11,12,13,14,15,16,17,18,19,20,21,22,23,24],
"labelExpr":"datum.value==0||datum.value==12||datum.value==24 ? datum.value+'h' : ''",
"labelFont":"Liberation Serif","labelFontWeight":"bold","labelFontSize":15,"labelColor":"#000","labelPadding":2,"labelOffset":3,"labelOverlap":false,"labelFlush":false,"labelBound":false,
"tickSize":{"condition":{"test":"datum.value % 12 === 0","value":9},"value":3},
"tickWidth":{"condition":{"test":"datum.value % 12 === 0","value":2},"value":1},
"tickColor":{"condition":{"test":"datum.value % 12 === 0","value":"#111"},"value":"#666"},
"domainColor":"#333","domainWidth":1}},
"y":{"field":"v","type":"quantitative","scale":{"domain":[-0.017,0],"nice":false,"zero":false},
"axis":{"orient":"left","title":null,"grid":false,"values":[0,-0.001,-0.002,-0.003,-0.004,-0.005,-0.006,-0.007,-0.008,-0.009,-0.01,-0.011,-0.012,-0.013,-0.014,-0.015,-0.016,-0.017],
"labelExpr":"round(datum.value*1000)==0 ? '0' : (round(datum.value*1000)%4==0 ? '-0,0' + (abs(round(datum.value*1000))<10 ? '0' : '') + abs(round(datum.value*1000)) : '')",
"labelFont":"Liberation Sans Narrow","labelFontSize":12,"labelColor":"#333","labelPadding":2,"labelOverlap":false,
"tickSize":4,"tickColor":"#555","domainColor":"#555","domainWidth":1.5}}
},
"layer":[
{"data":{"name":"base"},"mark":{"type":"rule","color":"#ababab","strokeWidth":5},"encoding":{"x2":{"field":"h2"}}},
{"data":{"name":"R"},"transform":[{"filter":"datum.t"}],"mark":{"type":"line","color":"#b3b3b3","strokeWidth":7,"strokeCap":"round","strokeJoin":"round"},"encoding":{"detail":{"field":"t"}}},
{"data":{"name":"R"},"mark":{"type":"point","shape":"diamond","filled":false,"size":40,"color":"#a4a4a4","strokeWidth":1.3,"opacity":1}},
{"data":{"name":"E"},"mark":{"type":"line","color":"#d0148e","strokeWidth":2.5,"interpolate":"cardinal","clip":false},"encoding":{"order":{"field":"o","type":"quantitative"}}},
{"data":{"name":"T"},"transform":[{"filter":"datum.k=='storm'"}],"mark":{"type":"text","align":"left","baseline":"middle","font":"DejaVu Sans","fontWeight":"bold","fontSize":15,"color":"#c0168c"},"encoding":{"text":{"field":"s"}}},
{"data":{"name":"T"},"transform":[{"filter":"datum.k=='unit'"}],"mark":{"type":"text","align":"left","baseline":"middle","font":"Lato","fontWeight":"bold","fontStyle":"italic","fontSize":20,"color":"#178a8c"},"encoding":{"text":{"field":"s"}}}
]
}
]
}
